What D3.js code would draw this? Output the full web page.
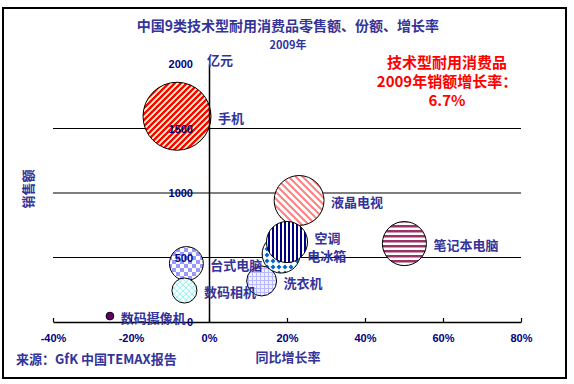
<!DOCTYPE html>
<html>
<head>
<meta charset="utf-8">
<title>技术型耐用消费品</title>
<script src="https://cdn.jsdelivr.net/npm/d3@7/dist/d3.min.js"></script>
<style>
  body { margin: 0; background: #fff; }
  text { font-family: "Noto Sans CJK SC", "Liberation Sans", sans-serif; font-weight: bold; }
</style>
</head>
<body>
<div id="chart"></div>
<script>
// data
var products = ["手机", "液晶电视", "笔记本电脑", "洗衣机", "电冰箱", "空调", "台式电脑", "数码相机", "数码摄像机"];
var growth = [-8.2, 23.1, 50.1, 13.5, 18.5, 20.0, -5.8, -6.3, -25.4];   // 同比增长率 %
var sales = [1595, 942, 608, 318, 527, 620, 453, 244, 46];            // 亿元
var share = [31, 16.7, 13, 6, 9.7, 11.3, 7.7, 4.2, 0.4];              // 份额 %, bubble size
var xTicks = [-40, -20, 0, 20, 40, 60, 80];
var yTicks = [0, 500, 1000, 1500, 2000];
var fills = ["url(#p-phone)", "url(#p-lcd)", "url(#p-nb)", "url(#p-wash)", "url(#p-fridge)",
             "url(#p-ac)", "url(#p-pc)", "url(#p-cam)", "#660066"];

var width = 574, height = 384;
var svg = d3.select("#chart").append("svg")
  .attr("width", width)
  .attr("height", height);

var defs = svg.append("defs");

// pattern fills, like the old excel ones
function pat(id, w, h, bg) {
  var p = defs.append("pattern").attr("id", id)
    .attr("patternUnits", "userSpaceOnUse")
    .attr("width", w).attr("height", h);
  p.append("rect").attr("width", w).attr("height", h).attr("fill", bg);
  return p;
}
var p;
p = pat("p-phone", 6, 6, "#FFFFCC");
p.append("path").attr("d", "M-1,1 l2,-2 M0,6 l6,-6 M5,7 l2,-2").attr("stroke", "#FF0000").attr("stroke-width", 2.4);
p = pat("p-lcd", 7, 7, "#fff");
p.append("path").attr("d", "M-1,6 l2,2 M0,0 l7,7 M6,-1 l2,2").attr("stroke", "#FF8080").attr("stroke-width", 2);
p = pat("p-nb", 5, 5, "#fff");
p.append("rect").attr("y", 0).attr("width", 5).attr("height", 2.5).attr("fill", "#993366");
p = pat("p-ac", 4, 4, "#fff");
p.append("rect").attr("x", 0).attr("width", 2).attr("height", 4).attr("fill", "#000080");
p = pat("p-fridge", 6, 6, "#fff");
p.append("path").attr("d", "M3,0.5 L5.5,3 L3,5.5 L0.5,3 Z").attr("fill", "#0066CC");
p = pat("p-pc", 8, 8, "#fff");
p.append("rect").attr("width", 4).attr("height", 4).attr("fill", "#9999FF");
p.append("rect").attr("x", 4).attr("y", 4).attr("width", 4).attr("height", 4).attr("fill", "#9999FF");
p = pat("p-cam", 6, 6, "#F0FFFF");
p.append("path").attr("d", "M0,0 L6,6 M6,0 L0,6").attr("stroke", "#A8F0F0").attr("stroke-width", 1);
p = pat("p-wash", 4, 4, "#F0F0FF");
p.append("path").attr("d", "M0,0.5 H4 M0.5,0 V4").attr("stroke", "#B8B8FF").attr("stroke-width", 1);

// frame
svg.append("rect").attr("x", 3).attr("y", 8).attr("width", 563).attr("height", 370)
  .attr("fill", "none").attr("stroke", "#000").attr("stroke-width", 2);

var x = d3.scaleLinear().domain([-40, 80]).range([53, 521]);
var y = d3.scaleLinear().domain([0, 2000]).range([322, 64]);
var r = d3.scaleSqrt().domain([0, 31]).range([0, 34]);

// gridlines
svg.append("g").selectAll("line").data(yTicks.filter(function(d) { return d > 0 && d < 2000; }))
  .enter().append("line")
  .attr("x1", x(-40)).attr("x2", x(80))
  .attr("y1", function(d) { return y(d); }).attr("y2", function(d) { return y(d); })
  .attr("stroke", "#000").attr("stroke-width", 1.2);

// bubbles
var idx = d3.range(products.length);
svg.append("g").selectAll("circle").data(idx).enter().append("circle")
  .attr("cx", function(i) { return x(growth[i]); })
  .attr("cy", function(i) { return y(sales[i]); })
  .attr("r", function(i) { return r(share[i]); })
  .attr("fill", function(i) { return fills[i]; })
  .attr("stroke", "#000").attr("stroke-width", 1);

// x axis
var xAxis = svg.append("g").attr("transform", "translate(0," + y(0) + ")")
  .call(d3.axisBottom(x).tickValues(xTicks).tickSizeInner(-4).tickSizeOuter(0)
    .tickPadding(12).tickFormat(function(d) { return d + "%"; }));
xAxis.select(".domain").attr("stroke", "#000").attr("stroke-width", 1.5);
xAxis.selectAll(".tick line").attr("stroke", "#000").attr("stroke-width", 1.2);
xAxis.selectAll("text").attr("fill", "#000080")
  .style("font-size", "11px").style("font-family", "Liberation Sans, Arial, sans-serif").style("font-weight", "bold");

// y axis
var yAxis = svg.append("g").attr("transform", "translate(" + x(0) + ",0)")
  .call(d3.axisLeft(y).tickValues(yTicks).tickSize(0).tickPadding(16).tickFormat(d3.format("d")));
yAxis.select(".domain").attr("stroke", "#000").attr("stroke-width", 1.5);
yAxis.selectAll("text").attr("fill", "#000080")
  .style("font-size", "11px").style("font-family", "Liberation Sans, Arial, sans-serif").style("font-weight", "bold");

// bubble labels
svg.append("g").selectAll("text").data(idx).enter().append("text")
  .attr("x", function(i) { return x(growth[i]) + r(share[i]) + 7; })
  .attr("y", function(i) { return y(sales[i]) + (products[i] == "空调" ? -4 : 2); })
  .attr("dy", "0.35em")
  .attr("fill", "#333399").style("font-size", "13px")
  .text(function(i) { return products[i]; });

// titles
svg.append("text").attr("x", 288).attr("y", 31).attr("text-anchor", "middle")
  .attr("fill", "#333399").style("font-size", "14px")
  .text("中国9类技术型耐用消费品零售额、份额、增长率");
svg.append("text").attr("x", 288).attr("y", 49).attr("text-anchor", "middle")
  .attr("fill", "#333399").style("font-size", "11px")
  .text("2009年");
svg.append("text").attr("x", 207).attr("y", 65)
  .attr("fill", "#333399").style("font-size", "13px").text("亿元");
svg.append("text").attr("transform", "translate(33,189) rotate(-90)").attr("text-anchor", "middle")
  .attr("fill", "#333399").style("font-size", "13px").text("销售额");
svg.append("text").attr("x", 288).attr("y", 362).attr("text-anchor", "middle")
  .attr("fill", "#333399").style("font-size", "13px").text("同比增长率");
svg.append("text").attr("x", 16).attr("y", 364)
  .attr("fill", "#333399").style("font-size", "13px").text("来源：GfK 中国TEMAX报告");

// red note
var note = ["技术型耐用消费品", "2009年销额增长率：", "6.7%"];
svg.append("g").selectAll("text").data(note).enter().append("text")
  .attr("x", 447).attr("y", function(d, i) { return 68 + i * 19; })
  .attr("text-anchor", "middle").attr("fill", "#FF0000").style("font-size", "15px")
  .text(function(d) { return d; });
</script>
</body>
</html>
